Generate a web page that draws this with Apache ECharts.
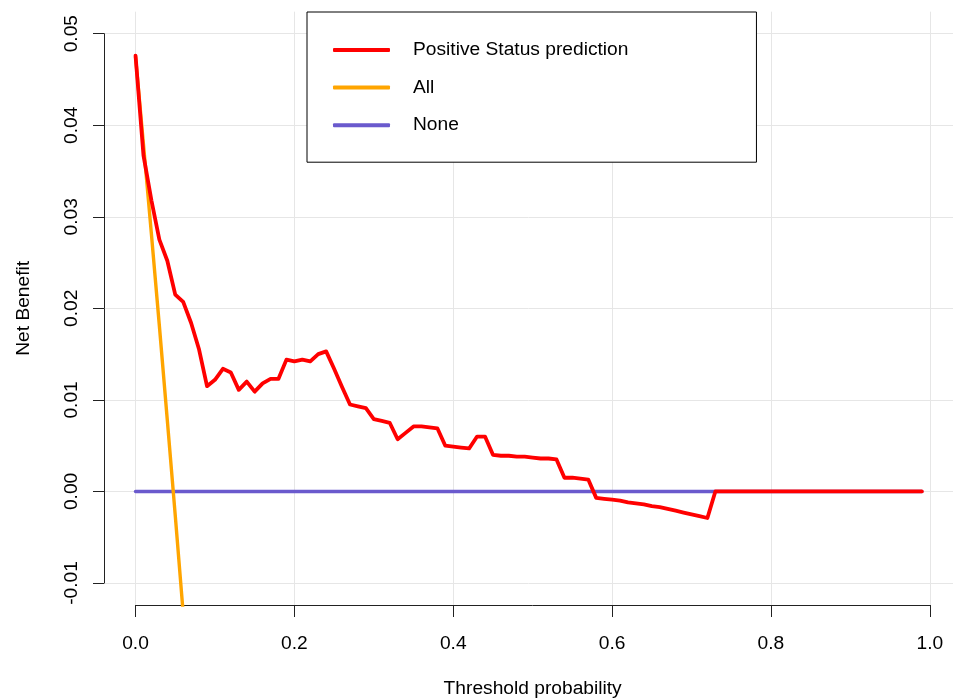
<!DOCTYPE html>
<html>
<head>
<meta charset="utf-8">
<script src="https://cdn.jsdelivr.net/npm/echarts@6/dist/echarts.min.js"></script>
<style>
  html, body { margin: 0; padding: 0; background: #fff; }
  #chart { width: 953px; height: 700px; }
</style>
</head>
<body>
<div id="chart"></div>
<script>
// ---- data ----
const thresholds = [
  0.00,0.01,0.02,0.03,0.04,0.05,0.06,0.07,0.08,0.09,
  0.10,0.11,0.12,0.13,0.14,0.15,0.16,0.17,0.18,0.19,
  0.20,0.21,0.22,0.23,0.24,0.25,0.26,0.27,0.28,0.29,
  0.30,0.31,0.32,0.33,0.34,0.35,0.36,0.37,0.38,0.39,
  0.40,0.41,0.42,0.43,0.44,0.45,0.46,0.47,0.48,0.49,
  0.50,0.51,0.52,0.53,0.54,0.55,0.56,0.57,0.58,0.59,
  0.60,0.61,0.62,0.63,0.64,0.65,0.66,0.67,0.68,0.69,
  0.70,0.71,0.72,0.73,0.74,0.75,0.76,0.77,0.78,0.79,
  0.80,0.81,0.82,0.83,0.84,0.85,0.86,0.87,0.88,0.89,
  0.90,0.91,0.92,0.93,0.94,0.95,0.96,0.97,0.98,0.99
];
const modelNB = [
  0.0476,0.0367,0.0318,0.0275,0.0252,0.0215,0.0207,0.0184,0.0155,0.0115,
  0.0122,0.0134,0.0130,0.0111,0.0120,0.0109,0.0118,0.0123,0.0123,0.0144,
  0.0142,0.0144,0.0142,0.0150,0.0153,0.0134,0.0114,0.0095,0.0093,0.0091,
  0.0079,0.0077,0.0075,0.0057,0.0064,0.0071,0.0071,0.0070,0.0069,0.0050,
  0.0049,0.0048,0.0047,0.0060,0.0060,0.0040,0.0039,0.0039,0.0038,0.0038,
  0.0037,0.0036,0.0036,0.0035,0.0015,0.0015,0.0014,0.0013,-0.0007,-0.0008,
  -0.0009,-0.0010,-0.0012,-0.0013,-0.0014,-0.0016,-0.0017,-0.0019,-0.0021,-0.0023,
  -0.0025,-0.0027,-0.0029,0,0,0,0,0,0,0,
  0,0,0,0,0,0,0,0,0,0,
  0,0,0,0,0,0,0,0,0,0
];
const allThresholds = [0.00,0.01,0.02,0.03,0.04,0.05,0.06];
const allNB = [0.0475,0.0379,0.0281,0.0181,0.0078,-0.0026,-0.0133];
const noneThresholds = [0.00,0.99];
const noneNB = [0,0];
const seriesNames = ['Positive Status prediction','All','None'];
const xTickLabels = ['0.0','0.2','0.4','0.6','0.8','1.0'];
const yTickLabels = ['-0.01','0.00','0.01','0.02','0.03','0.04','0.05'];

const zip = (xs, ys) => xs.map((x, i) => [x, ys[i]]);
const FONT = 'Liberation Sans, Arial, sans-serif';
const FS = 19.2;

const chart = echarts.init(document.getElementById('chart'), null, { renderer: 'canvas' });
chart.setOption({
  backgroundColor: '#ffffff',
  animation: false,
  textStyle: { fontFamily: FONT },
  legend: {
    data: seriesNames,
    orient: 'vertical',
    left: 307, top: 12,
    padding: [28, 128, 27, 26],
    icon: 'roundRect',
    itemWidth: 57, itemHeight: 4, itemGap: 17.6,
    borderColor: '#000', borderWidth: 1, borderRadius: 0,
    backgroundColor: '#ffffff',
    textStyle: { fontFamily: FONT, fontSize: FS, lineHeight: 17, color: '#000', padding: [3, 0, 0, 18] }
  },
  grid: [
    { left: 104, right: 0, top: 11.7, bottom: 95, outerBoundsMode: 'none', containLabel: false },
    { left: 135.5, right: 23.2, top: 11.7, bottom: 95, outerBoundsMode: 'none', containLabel: false },
    { left: 104, right: 0, top: 33.7, bottom: 117, outerBoundsMode: 'none', containLabel: false }
  ],
  xAxis: [
    { type: 'value', gridIndex: 0, min: -0.0397, max: 1.0292, show: false },
    { type: 'value', gridIndex: 1, min: 0, max: 1, interval: 0.2,
      name: 'Threshold probability', nameLocation: 'middle', nameGap: 73.5,
      nameTextStyle: { fontFamily: FONT, fontSize: FS, color: '#000', lineHeight: 20 },
      axisLine: { show: true, onZero: false, lineStyle: { color: '#222', width: 1 } },
      axisTick: { show: true, length: 12, lineStyle: { color: '#222', width: 1 } },
      axisLabel: { margin: 29, fontFamily: FONT, fontSize: FS, color: '#000', lineHeight: 20,
        formatter: (v) => xTickLabels[Math.round(v / 0.2)] },
      splitLine: { show: true, lineStyle: { color: '#e6e6e6', width: 1 } } },
    { type: 'value', gridIndex: 2, min: 0, max: 1, show: false }
  ],
  yAxis: [
    { type: 'value', gridIndex: 0, min: -0.0124, max: 0.0524, show: false },
    { type: 'value', gridIndex: 1, min: 0, max: 1, show: false },
    { type: 'value', gridIndex: 2, min: -0.01, max: 0.05, interval: 0.01,
      name: 'Net Benefit', nameLocation: 'middle', nameGap: 70,
      nameTextStyle: { fontFamily: FONT, fontSize: FS, color: '#000', lineHeight: 20 },
      axisLine: { show: true, onZero: false, lineStyle: { color: '#222', width: 1 } },
      axisTick: { show: true, length: 11, lineStyle: { color: '#222', width: 1 } },
      axisLabel: { margin: 22.5, rotate: 90, fontFamily: FONT, fontSize: FS, color: '#000', lineHeight: 20,
        formatter: (v) => yTickLabels[Math.round((v + 0.01) / 0.01)] },
      splitLine: { show: true, lineStyle: { color: '#e6e6e6', width: 1 } } }
  ],
  series: [
    { name: seriesNames[2], type: 'line', xAxisIndex: 0, yAxisIndex: 0, z: 2,
      data: zip(noneThresholds, noneNB), symbol: 'none', clip: true,
      color: '#6A5ACD', lineStyle: { color: '#6A5ACD', width: 3.4, cap: 'round' } },
    { name: seriesNames[1], type: 'line', xAxisIndex: 0, yAxisIndex: 0, z: 3,
      data: zip(allThresholds, allNB), symbol: 'none', clip: true,
      color: '#FFA500', lineStyle: { color: '#FFA500', width: 3.4 } },
    { name: seriesNames[0], type: 'line', xAxisIndex: 0, yAxisIndex: 0, z: 4,
      data: zip(thresholds, modelNB), symbol: 'none', clip: true,
      color: '#FF0000', lineStyle: { color: '#FF0000', width: 3.8, join: 'round', cap: 'round' } }
  ]
});
</script>
</body>
</html>
